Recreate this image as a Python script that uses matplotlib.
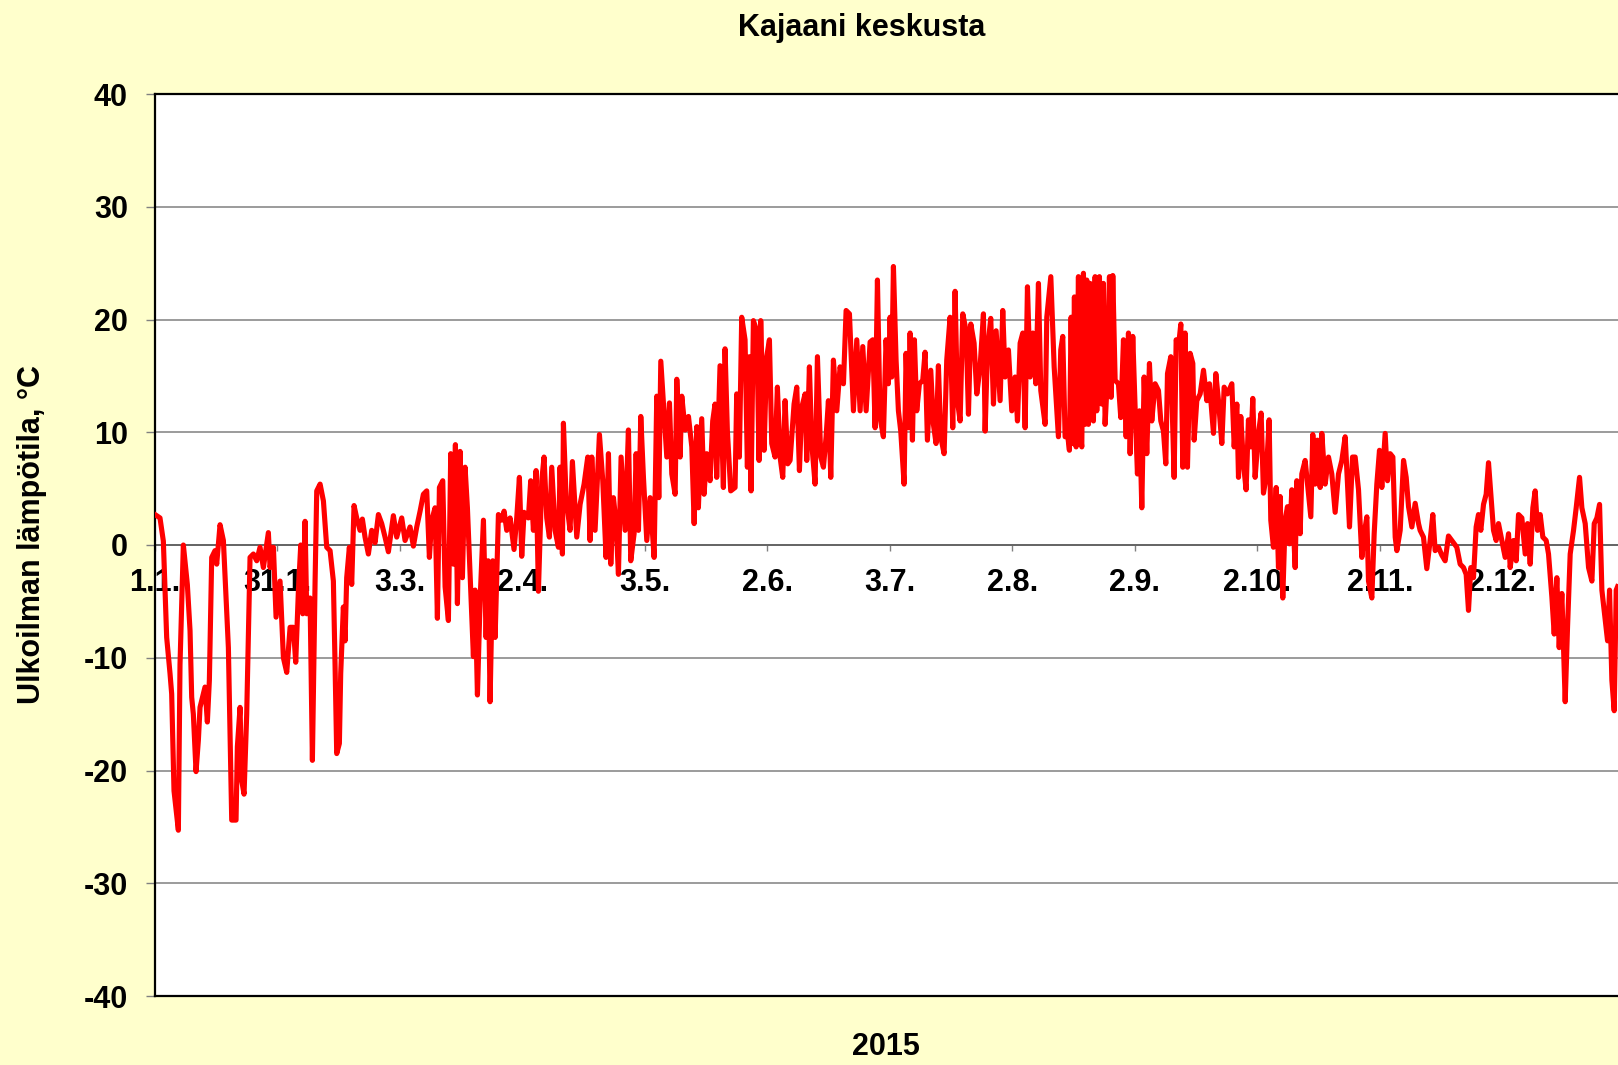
import matplotlib
matplotlib.use("Agg")
import matplotlib.pyplot as plt

plt.rcParams["font.family"] = ["Liberation Sans", "DejaVu Sans"]
plt.rcParams["font.weight"] = "bold"
plt.rcParams["axes.unicode_minus"] = False

TITLE = "Kajaani keskusta"
YLABEL = "Ulkoilman lämpötila, °C"
XLABEL = "2015"
TICK_LABELS = ["1.1.", "31.1.", "3.3.", "2.4.", "3.5.", "2.6.", "3.7.",
               "2.8.", "2.9.", "2.10.", "2.11.", "2.12."]

# day of year and outdoor temperature, °C
DAY = [
    0.0, 1.24, 2.07, 2.90, 3.73, 4.14, 4.72, 5.80, 6.21, 7.04, 8.03, 8.70, 9.11, 9.52,
    10.19, 10.77, 11.18, 12.01, 12.42, 13.0, 13.5, 14.08, 14.9, 15.32, 16.15, 16.98,
    18.22, 19.05, 20.12, 20.45, 21.12, 21.53, 22.11, 22.77, 23.6, 24.43, 25.26, 26.08,
    26.91, 28.15, 28.57, 29.4, 30.06, 31.05, 31.88, 32.71, 33.54, 34.36, 34.94, 35.6,
    36.19, 36.68, 37.26, 37.68, 38.5, 39.08, 39.75, 40.16, 40.99, 41.82, 42.64, 43.47,
    # helmi-maaliskuu
    44.29, 44.7, 45.12, 45.78, 46.11, 46.77, 47.19, 47.6, 48.26, 48.84, 49.42, 50.08,
    50.91, 51.49, 52.15, 52.98, 53.81, 54.64, 55.47, 56.29, 57.12, 57.95, 59.19, 60.02,
    61.26, 62.09, 63.33, 64.16, 64.99, 65.82, 66.64, 67.47, 68.13, 68.71, 69.54, 70.12,
    70.62, 71.45, 72.03, 72.85, 73.43, 74.1, 74.59, 75.09, 75.75, 76.33, 76.99, 77.57,
    78.24, 79.06, 79.48, 80.06, 80.72, 81.55, 82.21, 82.71, 83.2, 83.87, 84.45, 85.27,
    86.1, 86.68, 87.34, 88.17,
    # huhti-toukokuu
    89.15, 89.82, 90.48, 91.06, 91.64, 92.71, 93.29, 93.96, 94.62, 95.2, 96.03, 96.6,
    97.27, 97.93, 98.51, 99.34, 100.17, 100.58, 101.16, 101.41, 102.07, 103.06, 103.64,
    104.72, 105.55, 106.54, 107.45, 108.03, 108.45, 109.27, 110.35, 111.18, 112.0,
    112.59, 113.17, 113.83, 114.49, 115.07, 115.73, 116.73, 117.55, 118.13, 118.96,
    119.46, 120.04, 120.62, 121.28, 122.11, 122.94, 123.93, 124.59, 125.09, 125.59,
    126.25, 127.08, 127.74, 128.32, 129.15, 129.56, 130.39, 130.8, 131.63, 132.46,
    133.29, 133.87, 134.53,
    # touko-kesäkuu
    134.92, 135.75, 136.33, 136.99, 137.82, 138.48, 139.06, 139.47, 140.3, 141.13,
    141.54, 142.12, 142.95, 144.03, 144.44, 145.1, 145.68, 146.51, 147.09, 147.59,
    148.0, 148.58, 149.41, 149.99, 150.4, 151.23, 151.89, 152.56, 153.14, 153.96,
    154.54, 155.21, 155.87, 156.45, 157.11, 157.69, 158.68, 159.35, 160.01, 160.59,
    161.42, 161.83, 162.49, 163.07, 163.9, 164.48, 165.31, 165.97, 166.63, 167.21,
    167.79, 168.45, 169.28, 170.11, 170.94, 171.6, 172.43, 173.42, 174.25, 175.08,
    175.74, 176.57, 177.56, 178.22, 178.8, 179.38,
    # heinäkuu
    180.03, 180.86, 181.52, 182.1, 182.52, 182.93, 183.35, 184.01, 184.59, 185.17,
    186.0, 186.49, 187.07, 187.49, 188.07, 188.56, 189.14, 189.8, 190.63, 191.21,
    191.79, 192.62, 193.28, 193.94, 194.52, 195.1, 195.93, 196.59, 197.42, 198.08,
    198.66, 199.24, 199.91, 200.57, 201.4, 201.98, 202.56, 203.38, 204.05, 204.87,
    205.7, 206.12, 206.7, 207.52, 208.19, 208.85, 209.84, 210.5, 211.08, 211.91,
    212.74, 213.57, 214.15, 214.81, 215.47, 216.05, 216.63, 217.29, 217.96, 218.7,
    219.36, 219.94, 221.02, 221.43, 222.43, 223.26,
    # elo-syyskuu
    224.32, 224.9, 225.4, 225.98, 226.56, 227.05, 227.47, 227.88, 228.29, 228.71,
    229.29, 229.7, 230.12, 230.53, 230.94, 231.36, 231.77, 232.19, 232.6, 233.01,
    233.43, 233.84, 234.5, 235.08, 235.5, 235.91, 236.49, 236.99, 237.4, 237.82,
    238.4, 239.22, 239.8, 240.47, 241.13, 241.71, 242.12, 242.78, 243.36, 243.94,
    244.44, 245.02, 245.6, 246.26, 246.92, 247.5, 248.33, 249.16, 249.74, 250.4,
    250.98, 251.4, 252.22, 253.05, 253.55, 254.13, 254.71, 255.2, 255.78, 256.36,
    257.03, 257.69, 258.02, 258.68, 259.51, 260.34, 261.17, 261.83, 262.82, 263.4,
    264.06, 264.89, 265.47, 266.3, 267.38, 267.96, 268.62, 269.03,
    # loka-marraskuu
    269.6, 270.26, 270.92, 271.5, 272.08, 272.58, 273.16, 273.99, 274.65, 275.23,
    275.89, 276.64, 277.05, 277.71, 278.38, 278.96, 279.37, 280.03, 280.61, 281.19,
    281.69, 282.27, 283.1, 283.51, 284.34, 284.75, 285.58, 286.41, 286.99, 287.48,
    288.06, 288.64, 289.31, 289.72, 290.55, 291.38, 292.2, 293.03, 293.86, 294.69,
    295.52, 296.1, 296.59, 297.34, 298.0, 298.83, 299.66, 300.24, 300.9, 301.31,
    302.14, 302.72, 303.38, 304.04, 304.62, 305.45, 306.03, 306.69, 307.36, 307.94,
    308.35, 309.18, 310.01, 310.67, 311.25, 312.08, 312.9, 313.73,
    # marras-joulukuu
    314.13, 314.96, 315.79, 316.62, 317.28, 317.86, 318.69, 319.52, 320.34, 321.17,
    322.0, 323.24, 324.07, 324.9, 325.56, 326.14, 326.72, 327.38, 328.04, 328.62,
    329.2, 329.87, 330.53, 331.11, 331.69, 332.35, 333.01, 333.59, 334.42, 335.25,
    336.08, 336.49, 337.32, 337.98, 338.56, 339.39, 340.22, 340.8, 341.46, 342.12,
    342.7, 343.28, 343.94, 344.6, 345.43, 346.01, 346.84, 347.42, 348.08, 348.66,
    349.32, 350.15, 350.73, 351.39, 352.22, 352.88, 353.71, 354.29, 355.12, 355.95,
    356.78, 357.36, 358.02, 358.68, 359.26, 360.09, 360.67, 361.16, 361.74, 362.32,
    362.82, 363.15,
]

TEMP = [
    2.7, 2.4, 0.35, -8.2, -11.4, -13.2, -21.8, -25.3, -10.6, 0.0, -3.5, -7.6, -13.5, -15.0,
    -20.1, -17.3, -14.4, -13.2, -12.6, -15.7, -12.0, -1.1, -0.5, -1.7, 1.8, 0.4,
    -9.1, -24.4, -24.4, -17.9, -14.4, -20.9, -22.1, -15.0, -1.1, -0.8, -1.4, -0.2,
    -2.0, 1.1, -2.0, -0.2, -6.4, -3.2, -10.0, -11.3, -7.3, -7.3, -10.4, -4.1,
    0.0, -6.1, 2.1, -6.1, -4.7, -19.1, -3.2, 4.8, 5.4, 3.9, -0.2, -0.5,
    # helmi-maaliskuu
    -3.2, -10.5, -18.5, -17.6, -11.4, -5.5, -8.5, -2.9, -0.2, -3.5, 3.5, 2.4,
    1.3, 2.3, 0.7, -0.8, 1.3, 0.2, 2.7, 1.9, 0.7, -0.6, 2.6, 0.7,
    2.4, 0.4, 1.6, -0.1, 1.6, 3.0, 4.5, 4.8, -1.1, 2.2, 3.3, -6.5,
    5.1, 5.7, -3.7, -6.7, 8.1, -1.7, 8.9, -5.2, 8.3, -2.9, 6.9, 3.3,
    -2.6, -9.9, -4.0, -13.3, -4.9, 2.2, -8.2, -1.4, -13.9, -1.4, -8.2, 2.7,
    2.2, 3.0, 1.3, 2.4,
    # huhti-toukokuu
    -0.4, 2.4, 6.0, -1.0, 2.9, 2.4, 5.7, 1.3, 6.6, -4.1, 5.7, 7.8,
    2.4, 0.7, 6.9, 1.3, -0.2, 6.9, -0.8, 10.8, 4.2, 1.3, 7.4,
    0.7, 3.6, 5.4, 7.8, 0.4, 7.8, 1.3, 9.8, 5.7, -1.1,
    8.1, -1.7, 4.2, 1.9, -2.6, 7.8, 1.3, 10.2, -1.4, 1.0,
    8.1, 1.3, 11.4, 6.0, 0.4, 4.2, -1.1, 13.2, 4.2, 16.3,
    12.6, 7.8, 12.6, 6.3, 4.5, 14.7, 7.8, 13.2, 10.2, 11.4,
    8.7, 1.9, 10.5,
    # touko-kesäkuu
    3.3, 11.2, 4.5, 8.1, 5.7, 11.0, 12.5, 6.0, 15.9, 5.1,
    17.4, 10.1, 4.8, 5.1, 13.4, 7.8, 20.2, 18.2, 6.9, 16.7,
    4.8, 19.9, 19.0, 7.5, 19.9, 8.4, 16.7, 18.2, 9.0, 7.8,
    14.0, 7.8, 6.0, 12.8, 7.2, 7.5, 12.5, 14.0, 6.6, 12.2,
    13.4, 7.5, 15.8, 9.0, 5.4, 16.7, 7.8, 6.9, 9.6, 12.8,
    6.0, 16.4, 11.9, 15.8, 14.3, 20.8, 20.5, 11.9, 18.2, 11.9,
    17.6, 11.9, 18.0, 18.2, 10.4, 23.5,
    # heinäkuu
    11.3, 9.6, 18.2, 14.3, 20.2, 14.9, 24.7, 16.4, 11.9, 10.1,
    5.4, 17.0, 10.4, 18.8, 9.3, 18.2, 11.9, 14.3, 14.6, 17.1,
    9.3, 15.5, 10.7, 9.0, 15.9, 9.6, 8.1, 16.4, 20.2, 10.4,
    22.5, 12.8, 11.0, 20.5, 19.0, 11.6, 19.6, 17.9, 13.4, 15.8,
    20.5, 10.1, 17.3, 20.1, 12.5, 19.0, 12.8, 20.8, 14.9, 17.3,
    11.9, 14.9, 11.0, 17.9, 18.8, 10.4, 22.9, 14.9, 18.8, 14.3,
    23.2, 13.7, 10.7, 20.2, 23.8, 15.8,
    # elo-syyskuu
    9.6, 17.3, 18.5, 9.6, 9.9, 8.4, 20.2, 9.0, 22.0, 8.7,
    23.8, 10.1, 8.7, 24.1, 10.7, 23.5, 10.7, 23.2, 11.3, 11.0,
    23.8, 11.9, 23.8, 12.5, 23.2, 10.7, 14.9, 23.8, 13.1, 23.9,
    14.6, 14.3, 11.3, 18.2, 9.6, 18.8, 8.1, 18.5, 12.2, 6.3,
    11.9, 3.3, 14.9, 8.1, 16.1, 11.0, 14.3, 13.7, 11.0, 10.1,
    7.2, 15.2, 16.7, 6.0, 18.2, 17.6, 19.6, 6.9, 18.8, 6.9,
    17.0, 16.1, 9.3, 12.8, 13.4, 15.5, 12.8, 14.3, 9.9, 15.2,
    12.8, 9.0, 14.0, 13.4, 14.3, 8.7, 12.5, 6.0,
    # loka-marraskuu
    11.4, 7.2, 4.9, 11.1, 8.7, 13.0, 6.0, 9.9, 11.7, 4.6,
    6.0, 11.1, 2.2, -0.2, 5.1, -2.0, 4.3, -4.7, 2.2, 3.4,
    0.1, 4.9, -2.0, 5.7, 1.0, 6.3, 7.5, 4.6, 2.5, 9.8,
    5.4, 9.3, 5.1, 9.9, 5.4, 7.8, 6.3, 2.9, 6.3, 7.5,
    9.6, 5.4, 1.6, 7.8, 7.8, 4.9, -1.1, 1.0, 2.5, -3.2,
    -4.7, 1.0, 5.4, 8.4, 5.1, 9.9, 5.7, 8.1, 7.8, 0.7,
    -0.5, 1.3, 7.5, 6.0, 3.4, 1.6, 3.7, 1.9,
    # marras-joulukuu
    1.3, 0.7, -2.1, 0.4, 2.7, -0.5, -0.2, -0.9, -1.4, 0.8,
    0.4, -0.2, -1.7, -2.0, -2.6, -5.8, -2.0, -2.9, 1.6, 2.7,
    1.3, 3.6, 4.5, 7.3, 4.5, 1.3, 0.4, 1.9, 0.4, -1.1,
    1.0, -2.0, 0.4, -1.4, 2.7, 2.4, -0.8, 1.9, -1.7, 3.3,
    4.8, 1.3, 2.7, 0.7, 0.4, -0.8, -4.6, -7.9, -2.9, -9.1,
    -4.3, -13.9, -7.3, -0.8, 1.3, 3.3, 6.0, 3.3, 1.9, -2.0,
    -3.2, 1.9, 2.4, 3.6, -4.0, -6.7, -8.5, -4.0, -12.0, -14.7,
    -4.0, -3.7,
]

YEAR_DAYS = 365
BG = "#FFFFCC"

W, H = 1618, 1065
fig = plt.figure(figsize=(W / 100, H / 100), dpi=100, facecolor=BG)
# plot area runs slightly past the right edge, like in the original
ax = fig.add_axes([155 / W, 69 / H, 1470 / W, 902 / H])
ax.set_facecolor("white")

ax.plot(DAY, TEMP, color="#FF0000", lw=3.7, solid_joinstyle="round", zorder=3)

ax.set_xlim(0, YEAR_DAYS)
ax.set_ylim(-40, 40)
ax.set_yticks(range(-40, 41, 10))
ax.set_xticks([])
ax.yaxis.grid(True, color="#808080", lw=1.1)
ax.set_axisbelow(True)
ax.tick_params(axis="y", direction="out", length=6.5, width=1, color="#808080",
               pad=13, labelsize=22)
for s in ax.spines.values():
    s.set_linewidth(1.6)
    s.set_color("black")

# category-style date axis crossing at zero, labels below it
sec = ax.secondary_xaxis(0.5)
sec.set_alignment("bottom")
ticks = [i * YEAR_DAYS / 12 for i in range(12)]
sec.set_xticks(ticks)
sec.set_xticklabels(TICK_LABELS)
sec.tick_params(direction="out", length=4.5, width=1, color="#808080",
                pad=12, labelsize=22)
sec.spines["bottom"].set_color("black")
sec.spines["bottom"].set_linewidth(1.3)

fig.text(862 / W, 1 - 28 / H, TITLE, ha="center", va="center", fontsize=22,
         fontweight="bold")
fig.text(886 / W, 1 - 1047 / H, XLABEL, ha="center", va="center", fontsize=22,
         fontweight="bold")
fig.text(32 / W, 1 - 534 / H, YLABEL, ha="center", va="center", rotation=90,
         fontsize=22, fontweight="bold")

fig.savefig("out.png", dpi=100, facecolor=BG)
